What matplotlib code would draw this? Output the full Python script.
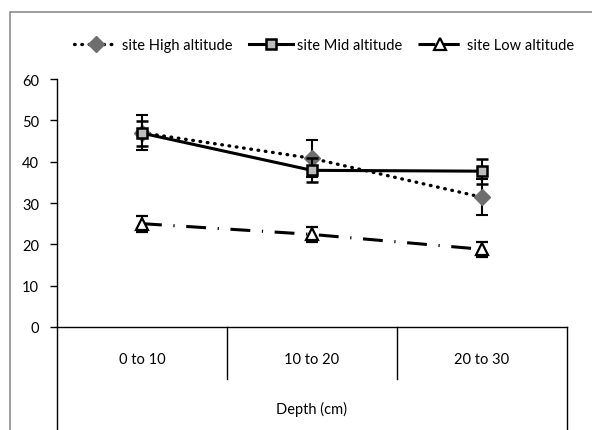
import matplotlib as mpl
mpl.use('Agg')
import matplotlib.pyplot as plt
import matplotlib.transforms as mtransforms
from matplotlib.patches import Rectangle
from matplotlib.lines import Line2D

plt.rcParams['font.family'] = ['Lato', 'DejaVu Sans']

depths = ['0 to 10', '10 to 20', '20 to 30']
high = [47.0, 40.8, 31.4]
high_err = [4.2, 4.5, 4.4]
mid = [46.9, 37.9, 37.7]
mid_err = [3.0, 2.9, 3.0]
low = [25.0, 22.4, 18.8]
low_err = [1.9, 1.8, 1.8]

W, H = 592, 431
fig = plt.figure(figsize=(W / 100, H / 100), dpi=100)

# outer chart-area frame (cropped on right and bottom)
fig.patches.append(Rectangle((10 / W, -0.1), 1.2, 1.1 - 13 / H, transform=fig.transFigure,
                             fill=False, edgecolor='#8c8c8c', lw=1.2, zorder=0))

ax = fig.add_axes([57 / W, (H - 328) / H, 510 / W, 248 / H])
x = list(range(len(depths)))
lw = 2.2

styles = {
    'high': dict(color='black', lw=2.4, ls=(0, (0.2, 2.0)), dash_capstyle='round',
                 marker='D', markersize=8, markerfacecolor='#6e6e6e',
                 markeredgecolor='#6e6e6e'),
    'mid': dict(color='black', lw=lw, ls='-', marker='s', markersize=7.5,
                markerfacecolor='#bdbdbd', markeredgecolor='black', markeredgewidth=1.8),
    'low': dict(color='black', lw=lw, ls=(0, (6.5, 3.8, 0.4, 3.8)), marker='^',
                markersize=8, markerfacecolor='white', markeredgecolor='black',
                markeredgewidth=1.6),
}
err_kw = dict(ecolor='black', elinewidth=1.5, capsize=4, capthick=1.5, clip_on=False)

ax.errorbar(x, high, yerr=high_err, zorder=3, **styles['high'], **err_kw)
ax.errorbar(x, mid, yerr=mid_err, zorder=4, **styles['mid'], **err_kw)
ax.errorbar(x, low, yerr=low_err, zorder=5, **styles['low'], **err_kw)

ax.set_xlim(-0.5, len(depths) - 0.5)
ax.set_ylim(0, 60)
ax.set_yticks(range(0, 61, 10))
ax.tick_params(axis='y', direction='out', length=5, width=1, labelsize=10.5, pad=8,
               colors='black')
ax.set_xticks([])
ax.spines['top'].set_visible(False)
ax.spines['right'].set_visible(False)
ax.spines['left'].set_linewidth(1)
ax.spines['bottom'].set_linewidth(1)

# category table below the axis
trans = mtransforms.blended_transform_factory(ax.transData, ax.transAxes)
for i in range(1, len(depths)):
    ax.plot([i - 0.5, i - 0.5], [0, -52 / 248], transform=trans, color='black',
            lw=1, clip_on=False)
for edge in [-0.5, len(depths) - 0.5]:
    ax.plot([edge, edge], [0, -110 / 248], transform=trans, color='black',
            lw=1, clip_on=False)
for i, lab in enumerate(depths):
    ax.text(i, -32 / 248, lab, transform=trans, ha='center', va='center', fontsize=10.5)
ax.text(0.5, -81 / 248, 'Depth (cm)', transform=ax.transAxes, ha='center',
        va='center', fontsize=10.5)

leg_low = dict(styles['low'], ls=(0, (5.5, 2.5)))
handles = [Line2D([], [], **styles['high']), Line2D([], [], **styles['mid']),
           Line2D([], [], **leg_low)]
labels = ['site High altitude', 'site Mid altitude', 'site Low altitude']
fig.legend(handles, labels, loc='center', bbox_to_anchor=(324 / W, 1 - 46 / H), ncol=3,
           frameon=False, fontsize=10.5, handlelength=3.0, handletextpad=0.3,
           columnspacing=1.1)

fig.savefig('out.png', dpi=100)
